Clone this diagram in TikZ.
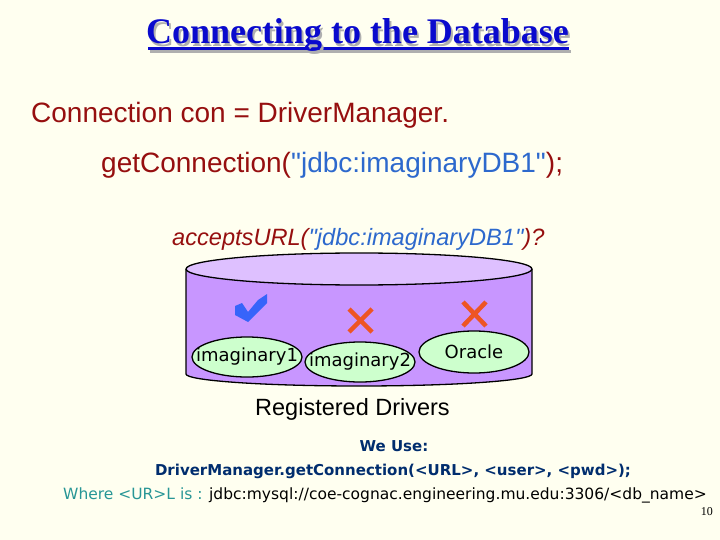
\documentclass[tikz,border=0pt]{standalone}
\usepackage{fontspec}
\setmainfont{Liberation Serif}
\newfontfamily\arialfont{Liberation Sans}
\newfontfamily\comicfont{DejaVu Sans}
\usetikzlibrary{shapes.geometric,positioning}
\definecolor{bgivory}{RGB}{255,255,240}
\definecolor{titleblue}{RGB}{10,10,205}
\definecolor{shadowgray}{RGB}{175,175,175}
\definecolor{codered}{RGB}{150,15,15}
\definecolor{urlblue}{RGB}{45,105,205}
\definecolor{cylpurple}{RGB}{200,150,255}
\definecolor{cyltop}{RGB}{222,192,255}
\definecolor{drvgreen}{RGB}{205,255,205}
\definecolor{tickblue}{RGB}{55,100,250}
\definecolor{crossred}{RGB}{238,85,35}
\definecolor{navy}{RGB}{0,45,110}
\definecolor{teal}{RGB}{40,150,150}
\newcommand{\shadowed}[1]{\rlap{\kern2pt\raisebox{-2.5pt}{\color{shadowgray}#1}}#1}

\begin{document}
\begin{tikzpicture}[x=1pt, y=-1pt,
    every node/.style={inner sep=0pt},
    txt/.style={anchor=base west, font=\arialfont\fontsize{28}{32}\selectfont, text=codered},
    title/.style={anchor=base, font=\bfseries\fontsize{36}{40}\selectfont, text=titleblue},
    driver/.style={draw, ellipse, line width=1.3pt, fill=drvgreen, minimum width=110pt, minimum height=40pt, font=\comicfont\fontsize{18}{20}\selectfont},
    cross/.style={draw=crossred, line width=4.5pt},
    comic/.style={anchor=base, font=\comicfont\bfseries\fontsize{15}{18}\selectfont, text=navy}]

\fill[bgivory] (0,0) rectangle (720,540);
\useasboundingbox (0,0) rectangle (720,540);
\clip (0,0) rectangle (720,540);

% title with its shadow
\fill [shadowgray] (149.5,50) rectangle (570.5,53);
\fill [titleblue] (147.5,47.5) rectangle (568.5,50.5);
\node [title] (title) at (357.5,44) {\shadowed{Connecting to the Database}};

% the call
\node [txt] (line1) at (31,123) {Connection con = DriverManager.};
\node [txt] (line2) at (101,173) {getConnection({\color{urlblue}"jdbc:imaginaryDB1"});};
\node [txt, font=\arialfont\itshape\fontsize{23.6}{28}\selectfont] (accepts) at (172,245)
    {acceptsURL({\color{urlblue}"jdbc:imaginaryDB1"})?};

% the cylinder of registered drivers
\filldraw [fill=cylpurple, line width=1.3pt] (186,269) -- (186,374)
    arc[start angle=180, end angle=0, x radius=173, y radius=12] -- (532,269);
\filldraw [fill=cyltop, line width=1.3pt] (359,269) ellipse [x radius=173, y radius=16];

\node [driver] (imag1) at (247,357) {\makebox[0pt]{imaginary1}};
\node [driver] (imag2) at (360,362) {\makebox[0pt]{imaginary2}};
\node [driver, minimum height=42pt] (oracle) at (474,352) {\makebox[0pt]{Oracle}};

% answers
\fill [tickblue] (235,306) -- (242,303) -- (248,312) -- (258,300) -- (267,294)
    -- (267,303) -- (248,322) -- (235,315) -- cycle;
\draw [cross] (349,309) -- (372,332);
\draw [cross] (349,332) -- (372,309);
\draw [cross] (463,302) -- (486,326);
\draw [cross] (463,326) -- (486,302);

\node [txt, font=\arialfont\fontsize{23.5}{26}\selectfont, text=black] (regdrv) at (255,415) {Registered Drivers};

% usage notes
\node [comic] (weuse) at (394,451) {We Use:};
\node [comic] (usage) at (393,475)
    {DriverManager.getConnection(\textless URL\textgreater, \textless user\textgreater, \textless pwd\textgreater);};
\node [anchor=base west, font=\comicfont\fontsize{15.5}{18}\selectfont] (where) at (63,499)
    {{\color{teal}Where \textless UR\textgreater L is :} jdbc:mysql://coe-cognac.engineering.mu.edu:3306/\textless db\_name\textgreater};
\node [anchor=base east, font=\fontsize{12}{14}\selectfont] (pagenum) at (713,515) {10};

\end{tikzpicture}
\end{document}
